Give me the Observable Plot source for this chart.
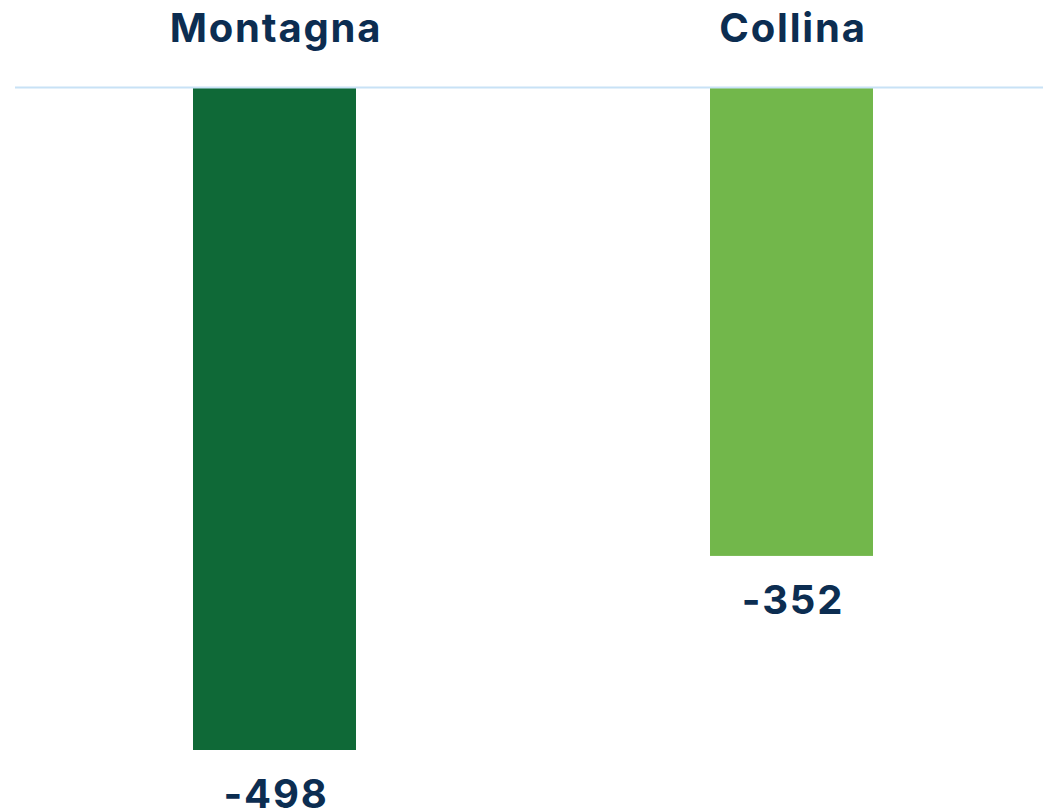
<!DOCTYPE html>
<html>
<head>
<meta charset="utf-8">
<script src="https://cdn.jsdelivr.net/npm/d3@7"></script>
<script src="https://cdn.jsdelivr.net/npm/@observablehq/plot@0.6"></script>
<style>
  html, body { margin: 0; padding: 0; background: #ffffff; }
  #chart svg { display: block; }
  #chart svg text { letter-spacing: 1.8px; }
</style>
</head>
<body>
<div id="chart"></div>
<script>
const categories = ["Montagna", "Collina"];
const values = [-498, -352];
const colors = ["#0f6937", "#72b74b"];

const data = categories.map((c, i) => ({ cat: c, value: values[i], color: colors[i] }));

const textColor = "#0c2d51";
const font = "Inter, 'Open Sans', sans-serif";

const chart = Plot.plot({
  width: 1043,
  height: 811,
  marginTop: 88,
  marginBottom: 61,
  marginLeft: 15,
  marginRight: 0,
  style: { fontFamily: font, background: "#ffffff" },
  x: { domain: categories, range: [193, 873], paddingInner: 0.685, paddingOuter: 0, axis: null },
  y: { domain: [-498, 0], axis: null },
  marks: [
    Plot.barY(data, { x: "cat", y: "value", fill: "color" }),
    Plot.ruleY([0], { stroke: "#c8e2f6", strokeWidth: 2, dy: -1 }),
    Plot.text(data, {
      x: "cat", frameAnchor: "top", text: "cat", dy: -59, dx: 1, lineAnchor: "middle",
      fontSize: 40, fontWeight: 700, fill: textColor
    }),
    Plot.text(data, {
      x: "cat", y: "value", text: d => String(d.value), dy: 29, dx: 1, lineAnchor: "top",
      fontSize: 40, fontWeight: 700, fill: textColor
    })
  ]
});
document.getElementById("chart").appendChild(chart);
</script>
</body>
</html>
